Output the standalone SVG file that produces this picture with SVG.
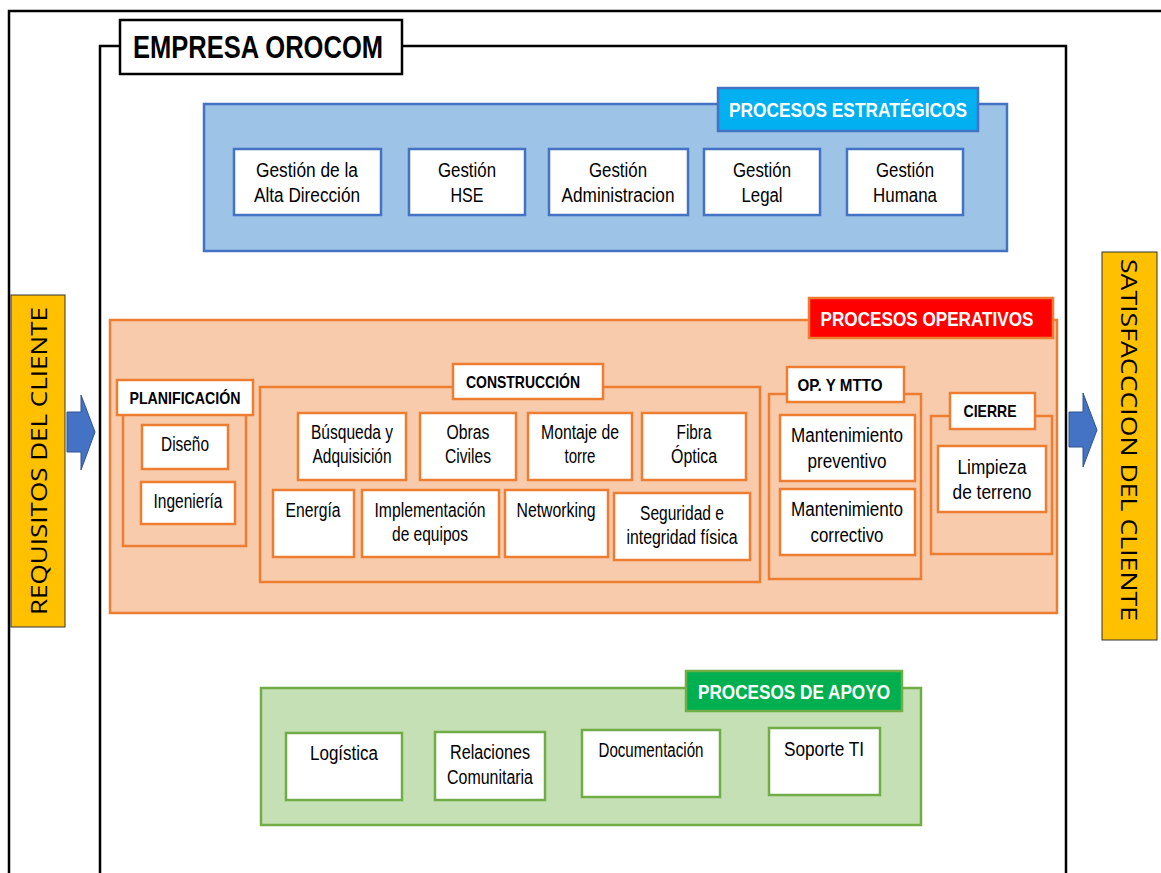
<svg xmlns="http://www.w3.org/2000/svg" width="1161" height="873" viewBox="0 0 1161 873">
<style>
.frame{fill:none;stroke:#000;stroke-width:2.5}
.nodeB{fill:#fff;stroke:#4472C4;stroke-width:2.5}
.nodeO{fill:#fff;stroke:#ED7D31;stroke-width:2.5}
.nodeG{fill:#fff;stroke:#70AD47;stroke-width:2.5}
.grpO{fill:none;stroke:#ED7D31;stroke-width:2.5}
.t{font-family:"Liberation Sans",Arial,sans-serif;font-size:20px;fill:#000;text-anchor:middle}
.lab{font-family:"Liberation Sans",Arial,sans-serif;font-weight:bold;fill:#fff;text-anchor:middle;font-size:21px}
.sub{font-family:"Liberation Sans",Arial,sans-serif;font-weight:bold;fill:#000;text-anchor:middle;font-size:17px}
.side{font-family:"Open Sans","Liberation Sans",sans-serif;font-size:22px;fill:#000;text-anchor:middle}
.arrow{fill:#4472C4;stroke:#2F528F;stroke-width:1}
</style>
<rect width="1161" height="873" fill="#fff"/>
<path class="frame" d="M9,873 V11 H1161"/>
<path class="frame" d="M100,873 V46 H1066 V873"/>
<g id="title">
<rect x="120" y="20" width="282" height="54" fill="#fff" stroke="#000" stroke-width="2.5"/>
<text x="258" y="58" font-family="Liberation Sans,Arial,sans-serif" font-weight="bold" font-size="31" text-anchor="middle" textLength="250" lengthAdjust="spacingAndGlyphs">EMPRESA OROCOM</text>
</g>
<g id="requisitos">
<rect x="11" y="295" width="54" height="332" fill="#FFC000" stroke="#333" stroke-width="1"/>
<text class="side" transform="translate(47,461) rotate(-90)" textLength="308" lengthAdjust="spacingAndGlyphs">REQUISITOS DEL CLIENTE</text>
</g>
<g id="satisfaccion">
<rect x="1102" y="252" width="55" height="388" fill="#FFC000" stroke="#333" stroke-width="1"/>
<text class="side" transform="translate(1121,440) rotate(90)" textLength="362" lengthAdjust="spacingAndGlyphs">SATISFACCCION DEL CLIENTE</text>
</g>
<g id="connectors">
<polygon class="arrow" points="67,412 81,412 81,395 95,432 81,470 81,452 67,452"/>
<polygon class="arrow" points="1069,412 1083,412 1083,393 1097,430 1083,467 1083,447 1069,447"/>
</g>
<g id="estrategicos">
<rect x="204" y="104" width="803" height="147" fill="#9DC3E6" stroke="#4472C4" stroke-width="2.5"/>
<rect x="718" y="88" width="260" height="43" fill="#00B0F0" stroke="#4472C4" stroke-width="2.5"/>
<text class="lab" x="848" y="117" textLength="238" lengthAdjust="spacingAndGlyphs">PROCESOS ESTRATÉGICOS</text>
</g>
<g id="gestion-alta">
<rect class="nodeB" x="234" y="149" width="147" height="66"/>
<text class="t" x="307" y="177" textLength="102" lengthAdjust="spacingAndGlyphs">Gestión de la</text>
<text class="t" x="307" y="202" textLength="106" lengthAdjust="spacingAndGlyphs">Alta Dirección</text>
</g>
<g id="gestion-hse">
<rect class="nodeB" x="409" y="149" width="116" height="66"/>
<text class="t" x="467" y="177" textLength="58" lengthAdjust="spacingAndGlyphs">Gestión</text>
<text class="t" x="467" y="202" textLength="33" lengthAdjust="spacingAndGlyphs">HSE</text>
</g>
<g id="gestion-admin">
<rect class="nodeB" x="549" y="149" width="139" height="66"/>
<text class="t" x="618" y="177" textLength="58" lengthAdjust="spacingAndGlyphs">Gestión</text>
<text class="t" x="618" y="202" textLength="113" lengthAdjust="spacingAndGlyphs">Administracion</text>
</g>
<g id="gestion-legal">
<rect class="nodeB" x="704" y="149" width="116" height="66"/>
<text class="t" x="762" y="177" textLength="58" lengthAdjust="spacingAndGlyphs">Gestión</text>
<text class="t" x="762" y="202" textLength="41" lengthAdjust="spacingAndGlyphs">Legal</text>
</g>
<g id="gestion-humana">
<rect class="nodeB" x="847" y="149" width="116" height="66"/>
<text class="t" x="905" y="177" textLength="58" lengthAdjust="spacingAndGlyphs">Gestión</text>
<text class="t" x="905" y="202" textLength="64" lengthAdjust="spacingAndGlyphs">Humana</text>
</g>
<g id="operativos">
<rect x="110" y="320" width="947" height="293" fill="#F8CBAD" stroke="#ED7D31" stroke-width="2.5"/>
<rect x="809" y="298" width="244" height="40" fill="#FF0000" stroke="#ED7D31" stroke-width="2.5"/>
<text class="lab" x="927" y="326" textLength="213" lengthAdjust="spacingAndGlyphs">PROCESOS OPERATIVOS</text>
</g>
<g id="planificacion">
<rect class="grpO" x="123" y="390" width="123" height="156"/>
<rect class="nodeO" x="117" y="380" width="136" height="35"/>
<text class="sub" x="185" y="404" textLength="111" lengthAdjust="spacingAndGlyphs">PLANIFICACIÓN</text>
</g>
<g id="diseno">
<rect class="nodeO" x="142" y="425" width="86" height="44"/>
<text class="t" x="185" y="451" textLength="48" lengthAdjust="spacingAndGlyphs">Diseño</text>
</g>
<g id="ingenieria">
<rect class="nodeO" x="141" y="482" width="94" height="42"/>
<text class="t" x="188" y="508" textLength="69" lengthAdjust="spacingAndGlyphs">Ingeniería</text>
</g>
<g id="construccion">
<rect class="grpO" x="260" y="387" width="500" height="195"/>
<rect class="nodeO" x="453" y="364" width="150" height="35"/>
<text class="sub" x="523" y="388" textLength="114" lengthAdjust="spacingAndGlyphs">CONSTRUCCIÓN</text>
</g>
<g id="busqueda">
<rect class="nodeO" x="298" y="413" width="108" height="67"/>
<text class="t" x="352" y="439" textLength="82" lengthAdjust="spacingAndGlyphs">Búsqueda y</text>
<text class="t" x="352" y="463" textLength="79" lengthAdjust="spacingAndGlyphs">Adquisición</text>
</g>
<g id="obras">
<rect class="nodeO" x="420" y="413" width="96" height="67"/>
<text class="t" x="468" y="439" textLength="43" lengthAdjust="spacingAndGlyphs">Obras</text>
<text class="t" x="468" y="463" textLength="46" lengthAdjust="spacingAndGlyphs">Civiles</text>
</g>
<g id="montaje">
<rect class="nodeO" x="528" y="413" width="104" height="67"/>
<text class="t" x="580" y="439" textLength="78" lengthAdjust="spacingAndGlyphs">Montaje de</text>
<text class="t" x="580" y="463" textLength="31" lengthAdjust="spacingAndGlyphs">torre</text>
</g>
<g id="fibra">
<rect class="nodeO" x="642" y="413" width="104" height="67"/>
<text class="t" x="694" y="439" textLength="35" lengthAdjust="spacingAndGlyphs">Fibra</text>
<text class="t" x="694" y="463" textLength="46" lengthAdjust="spacingAndGlyphs">Óptica</text>
</g>
<g id="energia">
<rect class="nodeO" x="273" y="490" width="81" height="67"/>
<text class="t" x="313" y="517" textLength="55" lengthAdjust="spacingAndGlyphs">Energía</text>
</g>
<g id="implementacion">
<rect class="nodeO" x="362" y="490" width="137" height="67"/>
<text class="t" x="430" y="517" textLength="111" lengthAdjust="spacingAndGlyphs">Implementación</text>
<text class="t" x="430" y="541" textLength="76" lengthAdjust="spacingAndGlyphs">de equipos</text>
</g>
<g id="networking">
<rect class="nodeO" x="505" y="490" width="103" height="67"/>
<text class="t" x="556" y="517" textLength="79" lengthAdjust="spacingAndGlyphs">Networking</text>
</g>
<g id="seguridad">
<rect class="nodeO" x="614" y="493" width="136" height="67"/>
<text class="t" x="682" y="520" textLength="84" lengthAdjust="spacingAndGlyphs">Seguridad e</text>
<text class="t" x="682" y="544" textLength="111" lengthAdjust="spacingAndGlyphs">integridad física</text>
</g>
<g id="opmtto">
<rect class="grpO" x="769" y="394" width="152" height="185"/>
<rect class="nodeO" x="787" y="367" width="117" height="35"/>
<text class="sub" x="840" y="391" textLength="85" lengthAdjust="spacingAndGlyphs">OP. Y MTTO</text>
</g>
<g id="mant-prev">
<rect class="nodeO" x="780" y="415" width="135" height="66"/>
<text class="t" x="847" y="442" textLength="112" lengthAdjust="spacingAndGlyphs">Mantenimiento</text>
<text class="t" x="847" y="468" textLength="79" lengthAdjust="spacingAndGlyphs">preventivo</text>
</g>
<g id="mant-corr">
<rect class="nodeO" x="780" y="489" width="135" height="66"/>
<text class="t" x="847" y="516" textLength="112" lengthAdjust="spacingAndGlyphs">Mantenimiento</text>
<text class="t" x="847" y="542" textLength="73" lengthAdjust="spacingAndGlyphs">correctivo</text>
</g>
<g id="cierre">
<rect class="grpO" x="931" y="416" width="121" height="138"/>
<rect class="nodeO" x="950" y="393" width="85" height="36"/>
<text class="sub" x="990" y="417" textLength="53" lengthAdjust="spacingAndGlyphs">CIERRE</text>
</g>
<g id="limpieza">
<rect class="nodeO" x="938" y="446" width="108" height="66"/>
<text class="t" x="992" y="474" textLength="69" lengthAdjust="spacingAndGlyphs">Limpieza</text>
<text class="t" x="992" y="499" textLength="79" lengthAdjust="spacingAndGlyphs">de terreno</text>
</g>
<g id="apoyo">
<rect x="261" y="688" width="660" height="137" fill="#C5E0B4" stroke="#70AD47" stroke-width="2.5"/>
<rect x="686" y="671" width="216" height="40" fill="#00B050" stroke="#70AD47" stroke-width="2.5"/>
<text class="lab" x="794" y="699" textLength="192" lengthAdjust="spacingAndGlyphs">PROCESOS DE APOYO</text>
</g>
<g id="logistica">
<rect class="nodeG" x="286" y="733" width="116" height="67"/>
<text class="t" x="344" y="760" textLength="68" lengthAdjust="spacingAndGlyphs">Logística</text>
</g>
<g id="relaciones">
<rect class="nodeG" x="435" y="732" width="110" height="68"/>
<text class="t" x="490" y="759" textLength="80" lengthAdjust="spacingAndGlyphs">Relaciones</text>
<text class="t" x="490" y="784" textLength="86" lengthAdjust="spacingAndGlyphs">Comunitaria</text>
</g>
<g id="documentacion">
<rect class="nodeG" x="582" y="730" width="138" height="67"/>
<text class="t" x="651" y="757" textLength="105" lengthAdjust="spacingAndGlyphs">Documentación</text>
</g>
<g id="soporte">
<rect class="nodeG" x="769" y="728" width="111" height="67"/>
<text class="t" x="824" y="756" textLength="80" lengthAdjust="spacingAndGlyphs">Soporte TI</text>
</g>
</svg>
